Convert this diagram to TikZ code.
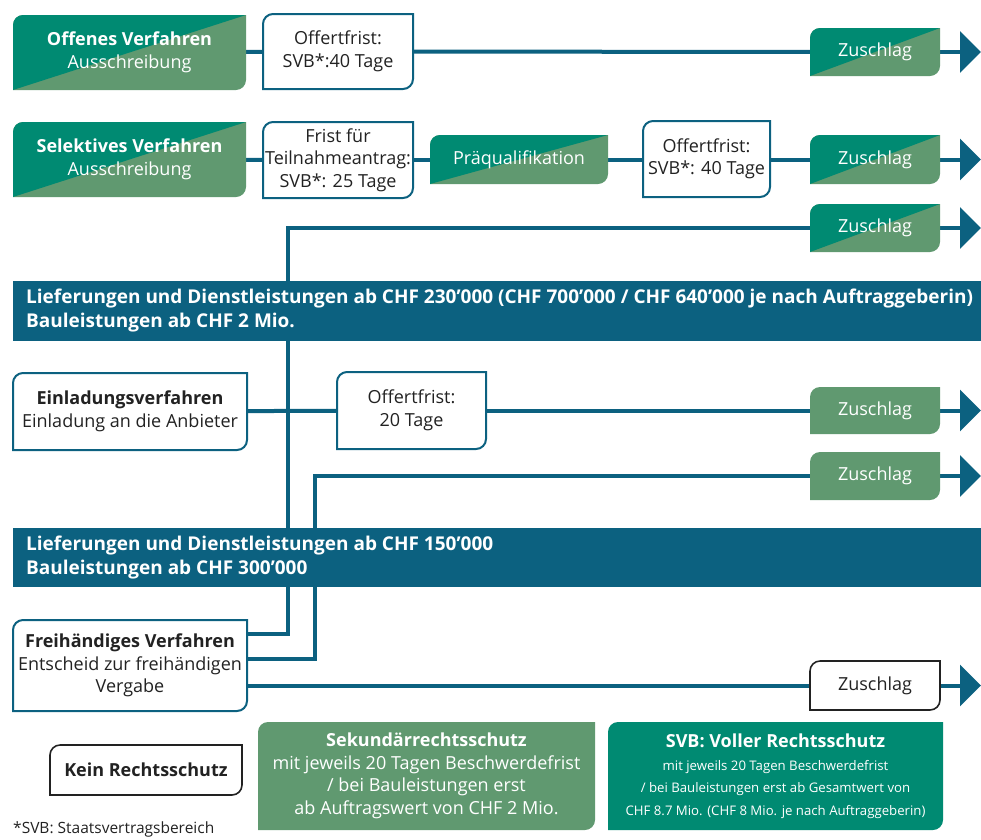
\documentclass[tikz,border=0pt]{standalone}
\usepackage{fontspec}
\setmainfont{Open Sans}
\usetikzlibrary{arrows.meta}
\definecolor{cTeal}{RGB}{0,138,114}
\definecolor{cSage}{RGB}{96,153,112}
\definecolor{cBlue}{RGB}{12,97,128}
\definecolor{cText}{RGB}{34,34,34}
\pgfdeclarelayer{bg}
\pgfsetlayers{bg,main}
% shape with rounded top-left and bottom-right corners (radius 10)
\newcommand\shp[5]{\path[#1] (#2+10,#3) -- (#4,#3) -- (#4,#5-10) .. controls (#4,#5-4.5) and (#4-4.5,#5) .. (#4-10,#5) -- (#2,#5) -- (#2,#3+10) .. controls (#2,#3+4.5) and (#2+4.5,#3) .. (#2+10,#3) -- cycle;}
\newcommand\boxnode[6]{\node[#1, minimum width={(#4-#2)*1pt}, minimum height={(#5-#3)*1pt}] (#6) at ({(#2+#4)/2},{(#3+#5)/2})}
\newcommand\splitshape[4]{%
  \shp{fill=cSage}{#1}{#2}{#3}{#4}
  \begin{scope}\clip (#1,#4) -- (#1,#2) -- (#3,#2) -- cycle; \shp{fill=cTeal}{#1}{#2}{#3}{#4}\end{scope}}
\begin{document}
\begin{tikzpicture}[x=1pt,y=-1pt,
  conn/.style={draw=cBlue, line width=4pt},
  tip/.style={conn, -{Triangle[width=41pt,length=21pt]}},
  lbl/.style={inner sep=0pt, align=center, font=\fontsize{18}{22.5}\selectfont, text=cText},
  wl/.style={lbl, text=white},
  wborder/.style={draw=cBlue, line width=2pt, fill=white},
  kborder/.style={draw=cText, line width=1.6pt, fill=white},
  barbox/.style={fill=cBlue, inner sep=0pt, minimum width=968pt, minimum height=60pt},
  bartxt/.style={inner sep=0pt, align=left, text=white, font=\bfseries\fontsize{19}{24}\selectfont}
]
\useasboundingbox (0,0) rectangle (981,839);

% ---------- shapes ----------
\splitshape{13}{15}{246}{90}
\shp{wborder}{263}{14}{413}{89}
\splitshape{810}{28}{940}{76}

\splitshape{13}{122}{246}{197}
\shp{wborder}{263}{122}{413}{198}
\splitshape{430}{135}{608}{184}
\shp{wborder}{643}{121}{770}{197}
\splitshape{810}{135}{940}{184}

\splitshape{810}{204}{940}{252}

\shp{wborder}{13}{373}{247}{450}
\shp{wborder}{337}{372}{486}{449}
\shp{fill=cSage}{810}{387}{940}{434}
\shp{fill=cSage}{810}{452}{940}{500}

\shp{wborder}{13}{620}{247}{711}
\shp{kborder}{810}{661}{940}{710}

\shp{kborder}{50}{745}{242}{795}
\shp{fill=cSage}{258}{722}{595}{830}
\shp{fill=cTeal}{608}{722}{943}{830}

% ---------- nodes ----------
\boxnode{wl}{13}{15}{246}{90}{off} {\textbf{Offenes Verfahren}\\Ausschreibung};
\boxnode{lbl}{263}{14}{413}{89}{of1} {Offertfrist:\\SVB*:40 Tage};
\boxnode{wl}{810}{28}{940}{76}{z1} {Zuschlag};

\boxnode{wl}{13}{122}{246}{197}{sel} {\textbf{Selektives Verfahren}\\Ausschreibung};
\boxnode{lbl}{263}{122}{413}{198}{fr} {Frist für\\Teilnahmeantrag:\\SVB*: 25 Tage};
\boxnode{wl}{430}{135}{608}{184}{pq} {Präqualifikation};
\boxnode{lbl}{643}{121}{770}{197}{of2} {Offertfrist:\\SVB*: 40 Tage};
\boxnode{wl}{810}{135}{940}{184}{z2} {Zuschlag};

\boxnode{wl}{810}{204}{940}{252}{z3} {Zuschlag};

\boxnode{barbox}{13}{281}{981}{341}{bar1} {};
\node[bartxt, anchor=west] (bar1t) at (26,311) {Lieferungen und Dienstleistungen ab CHF 230’000 (CHF 700’000 / CHF 640’000 je nach Auftraggeberin)\\Bauleistungen ab CHF 2 Mio.};

\boxnode{lbl}{13}{373}{247}{450}{ein} {\textbf{Einladungsverfahren}\\Einladung an die Anbieter};
\boxnode{lbl}{337}{372}{486}{449}{of3} {Offertfrist:\\20 Tage};
\boxnode{wl}{810}{387}{940}{434}{z4} {Zuschlag};
\boxnode{wl}{810}{452}{940}{500}{z5} {Zuschlag};

\boxnode{barbox}{13}{528}{981}{587}{bar2} {};
\node[bartxt, anchor=west] (bar2t) at (26,557.5) {Lieferungen und Dienstleistungen ab CHF 150’000\\Bauleistungen ab CHF 300’000};

\boxnode{lbl}{13}{620}{247}{711}{frei} {\textbf{Freihändiges Verfahren}\\Entscheid zur freihändigen\\Vergabe};
\boxnode{lbl}{810}{661}{940}{710}{z6} {Zuschlag};

\boxnode{lbl}{50}{745}{242}{795}{kein} {\textbf{Kein Rechtsschutz}};
\boxnode{wl}{258}{722}{595}{830}{sek} {\textbf{Sekundärrechtsschutz}\\mit jeweils 20 Tagen Beschwerdefrist\\/ bei Bauleistungen erst\\ab Auftragswert von CHF 2 Mio.};
\boxnode{wl}{608}{722}{943}{830}{svb} {\textbf{SVB: Voller Rechtsschutz}\\\fontsize{13.2}{22}\selectfont mit jeweils 20 Tagen Beschwerdefrist\\\fontsize{13.2}{22}\selectfont / bei Bauleistungen erst ab Gesamtwert von\\\fontsize{13.2}{22}\selectfont CHF 8.7 Mio. (CHF 8 Mio. je nach Auftraggeberin)};

\node[lbl, anchor=base west, font=\fontsize{15.5}{19}\selectfont] (fn) at (13,833) {*SVB: Staatsvertragsbereich};

% ---------- connectors ----------
\coordinate (t1) at (981,52);
\coordinate (t2) at (981,159.5);
\coordinate (t3) at (981,228);
\coordinate (t4) at (981,410.5);
\coordinate (t5) at (981,476);
\coordinate (t6) at (981,685.5);
\coordinate (c3) at (288,228);
\coordinate (c3b) at (288,634);
\coordinate (c5) at (315,476);
\coordinate (c5b) at (315,659);

\begin{pgfonlayer}{bg}
\draw[conn] (off) -- (of1);
\draw[conn] (of1) -- (z1);
\draw[tip] (z1.east) -- (t1);

\draw[conn] (sel) -- (fr);
\draw[conn] (fr.east |- pq.west) -- (pq.west);
\draw[conn] (pq.east) -- (of2.west |- pq.east);
\draw[conn] (of2.east |- z2.west) -- (z2.west);
\draw[tip] (z2.east) -- (t2);

\draw[conn] (z3.west) -- (c3) -- (c3b) -- (c3b -| frei.east);
\draw[tip] (z3.east) -- (t3);

\draw[conn] (ein) -- (of3);
\draw[conn] (of3) -- (z4);
\draw[tip] (z4.east) -- (t4);

\draw[conn] (z5.west) -- (c5) -- (c5b) -- (c5b -| frei.east);
\draw[tip] (z5.east) -- (t5);

\draw[conn] (frei.east |- z6.west) -- (z6.west);
\draw[tip] (z6.east) -- (t6);
\end{pgfonlayer}
\end{tikzpicture}
\end{document}
